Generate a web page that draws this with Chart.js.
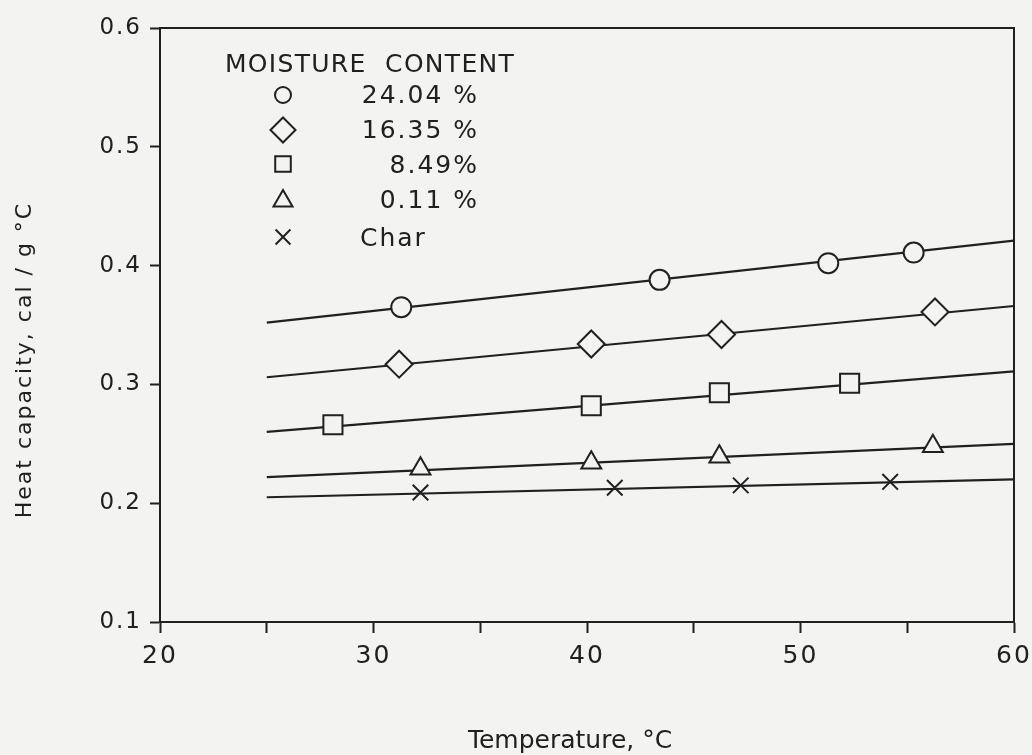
<!DOCTYPE html>
<html>
<head>
<meta charset="utf-8">
<title>Heat capacity vs temperature</title>
<script src="https://cdn.jsdelivr.net/npm/chart.js@4.4.1/dist/chart.umd.min.js"></script>
<style>
  html, body { margin: 0; padding: 0; background: #f3f3f1; }
  #wrap { width: 1032px; height: 755px; }
  canvas { display: block; }
</style>
</head>
<body>
<div id="wrap"><canvas id="chart" width="1032" height="755"></canvas></div>
<script>
// Measured heat capacity (cal/g °C) against temperature (°C) for each moisture content
const seriesLabels = ['24.04 %', '16.35 %', '8.49%', '0.11 %', 'Char'];
const seriesStyles = ['circle', 'rectRot', 'rect', 'triangle', 'crossRot'];

const temp24 = [31.3, 43.4, 51.3, 55.3];
const cp24   = [0.365, 0.388, 0.402, 0.411];

const temp16 = [31.2, 40.2, 46.3, 56.3];
const cp16   = [0.317, 0.334, 0.342, 0.361];

const temp8  = [28.1, 40.2, 46.2, 52.3];
const cp8    = [0.266, 0.282, 0.293, 0.301];

const temp0  = [32.2, 40.2, 46.2, 56.2];
const cp0    = [0.229, 0.234, 0.239, 0.248];

const tempChar = [32.2, 41.3, 47.2, 54.2];
const cpChar   = [0.209, 0.213, 0.215, 0.218];

// Straight-line fits, given by their values at 25 °C and 60 °C
const fitTemps = [25, 60];
const fit24   = [0.352, 0.421];
const fit16   = [0.306, 0.366];
const fit8    = [0.260, 0.311];
const fit0    = [0.222, 0.250];
const fitChar = [0.205, 0.220];

// Axis ticks
const xTickValues = [20, 25, 30, 35, 40, 45, 50, 55, 60];
const xTickLabels = ['20', '', '30', '', '40', '', '50', '', '60'];
const yTickValues = [0.1, 0.2, 0.3, 0.4, 0.5, 0.6];
const yTickLabels = ['0.1', '0.2', '0.3', '0.4', '0.5', '0.6'];

const legendTitle = 'MOISTURE  CONTENT';
const xTitle = 'Temperature, °C';
const yTitle = 'Heat capacity, cal / g °C';

const INK = '#202020';
const PAPER = '#f3f3f1';
const FONT = '"DejaVu Sans", "Liberation Sans", sans-serif';

const pointSets = [
  [temp24, cp24], [temp16, cp16], [temp8, cp8], [temp0, cp0], [tempChar, cpChar]
];
const fitSets = [fit24, fit16, fit8, fit0, fitChar];
const markerRadius = [10, 13.5, 13.5, 11.5, 11];

const toPoints = (xs, ys) => xs.map((x, i) => ({ x: x, y: ys[i] }));

const datasets = [];
pointSets.forEach((pair, i) => {
  datasets.push({
    label: seriesLabels[i],
    data: toPoints(pair[0], pair[1]),
    showLine: false,
    pointStyle: seriesStyles[i],
    pointRadius: markerRadius[i],
    pointHoverRadius: markerRadius[i],
    pointBorderWidth: 2,
    pointBorderColor: INK,
    pointBackgroundColor: PAPER,
    order: 0
  });
});
fitSets.forEach((vals, i) => {
  datasets.push({
    label: seriesLabels[i] + ' fit',
    data: toPoints(fitTemps, vals),
    showLine: true,
    borderColor: INK,
    borderWidth: 2.2,
    pointRadius: 0,
    pointHoverRadius: 0,
    fill: false,
    order: 1
  });
});

// Small marker painter for the legend block
function drawMarker(ctx, style, x, y, r) {
  ctx.beginPath();
  if (style === 'circle') {
    ctx.arc(x, y, r, 0, Math.PI * 2);
  } else if (style === 'rectRot') {
    ctx.moveTo(x - r, y); ctx.lineTo(x, y - r); ctx.lineTo(x + r, y); ctx.lineTo(x, y + r); ctx.closePath();
  } else if (style === 'rect') {
    const s = r * Math.SQRT1_2;
    ctx.rect(x - s, y - s, 2 * s, 2 * s);
  } else if (style === 'triangle') {
    const h = r * Math.sin(Math.PI / 3);
    ctx.moveTo(x, y - r); ctx.lineTo(x + h, y + r / 2); ctx.lineTo(x - h, y + r / 2); ctx.closePath();
  } else if (style === 'crossRot') {
    const o = r * Math.SQRT1_2;
    ctx.moveTo(x - o, y - o); ctx.lineTo(x + o, y + o);
    ctx.moveTo(x + o, y - o); ctx.lineTo(x - o, y + o);
  }
  if (style !== 'crossRot') { ctx.fillStyle = PAPER; ctx.fill(); }
  ctx.stroke();
}

// Paper background; also widens the letter spacing used for the tick labels
const paperPlugin = {
  id: 'paper',
  beforeDraw(chart) {
    const ctx = chart.ctx;
    ctx.save();
    ctx.fillStyle = PAPER;
    ctx.fillRect(0, 0, chart.width, chart.height);
    ctx.restore();
    if ('letterSpacing' in ctx) ctx.letterSpacing = '2px';
  }
};

const framePlugin = {
  id: 'frameAndText',
  afterDraw(chart) {
    const ctx = chart.ctx;
    const a = chart.chartArea;
    ctx.save();
    // plot frame
    ctx.strokeStyle = INK;
    ctx.lineWidth = 2;
    ctx.strokeRect(a.left, a.top, a.right - a.left, a.bottom - a.top);

    ctx.fillStyle = INK;
    // x axis title
    ctx.font = '25px ' + FONT;
    if ('letterSpacing' in ctx) ctx.letterSpacing = '0px';
    ctx.textAlign = 'center';
    ctx.textBaseline = 'alphabetic';
    ctx.fillText(xTitle, 570, 748);

    // y axis title
    ctx.save();
    ctx.translate(31, 360);
    ctx.rotate(-Math.PI / 2);
    ctx.font = '22px ' + FONT;
    if ('letterSpacing' in ctx) ctx.letterSpacing = '2px';
    ctx.fillText(yTitle, 0, 0);
    ctx.restore();

    // legend block
    ctx.font = '25px ' + FONT;
    if ('letterSpacing' in ctx) ctx.letterSpacing = '1.3px';
    ctx.textAlign = 'left';
    ctx.fillText(legendTitle, 225, 72);

    const rowCenter = [95, 130, 164, 201, 237];
    const rowBase = [103, 138, 173, 208, 246];
    const legendR = [8, 12.5, 11, 11, 10.5];
    ctx.strokeStyle = INK;
    ctx.lineWidth = 2;
    if ('letterSpacing' in ctx) ctx.letterSpacing = '2px';
    seriesLabels.forEach((lab, i) => {
      drawMarker(ctx, seriesStyles[i], 283, rowCenter[i], legendR[i]);
      ctx.fillStyle = INK;
      if (i < 4) {
        ctx.textAlign = 'right';
        ctx.fillText(lab, 479, rowBase[i]);
      } else {
        ctx.textAlign = 'left';
        ctx.fillText(lab, 360, rowBase[i]);
      }
    });
    ctx.restore();
  }
};

new Chart(document.getElementById('chart'), {
  type: 'scatter',
  data: { datasets: datasets },
  options: {
    responsive: false,
    animation: false,
    devicePixelRatio: 1,
    layout: { padding: { left: 0, right: 18, top: 28, bottom: 0 } },
    plugins: {
      legend: { display: false },
      tooltip: { enabled: false },
      title: { display: false }
    },
    scales: {
      x: {
        type: 'linear',
        position: 'bottom',
        min: 20,
        max: 60,
        afterBuildTicks: (s) => { s.ticks = xTickValues.map(v => ({ value: v })); },
        afterFit: (s) => { s.height = 133; s.paddingLeft = 0; s.paddingRight = 0; },
        ticks: {
          autoSkip: false,
          maxRotation: 0,
          padding: 8,
          color: INK,
          font: { family: FONT, size: 25 },
          callback: (v, i) => xTickLabels[i]
        },
        grid: {
          drawOnChartArea: false,
          drawTicks: true,
          tickLength: 11,
          tickWidth: 2,
          tickColor: INK
        },
        border: { display: true, color: INK, width: 2 }
      },
      y: {
        type: 'linear',
        min: 0.1,
        max: 0.6,
        afterBuildTicks: (s) => { s.ticks = yTickValues.map(v => ({ value: v })); },
        afterFit: (s) => { s.width = 160; },
        ticks: {
          padding: 8,
          color: INK,
          font: { family: FONT, size: 23 },
          callback: (v, i) => yTickLabels[i]
        },
        grid: {
          drawOnChartArea: false,
          drawTicks: true,
          tickLength: 10,
          tickWidth: 2,
          tickColor: INK
        },
        border: { display: true, color: INK, width: 2 }
      }
    }
  },
  plugins: [paperPlugin, framePlugin]
});
</script>
</body>
</html>
